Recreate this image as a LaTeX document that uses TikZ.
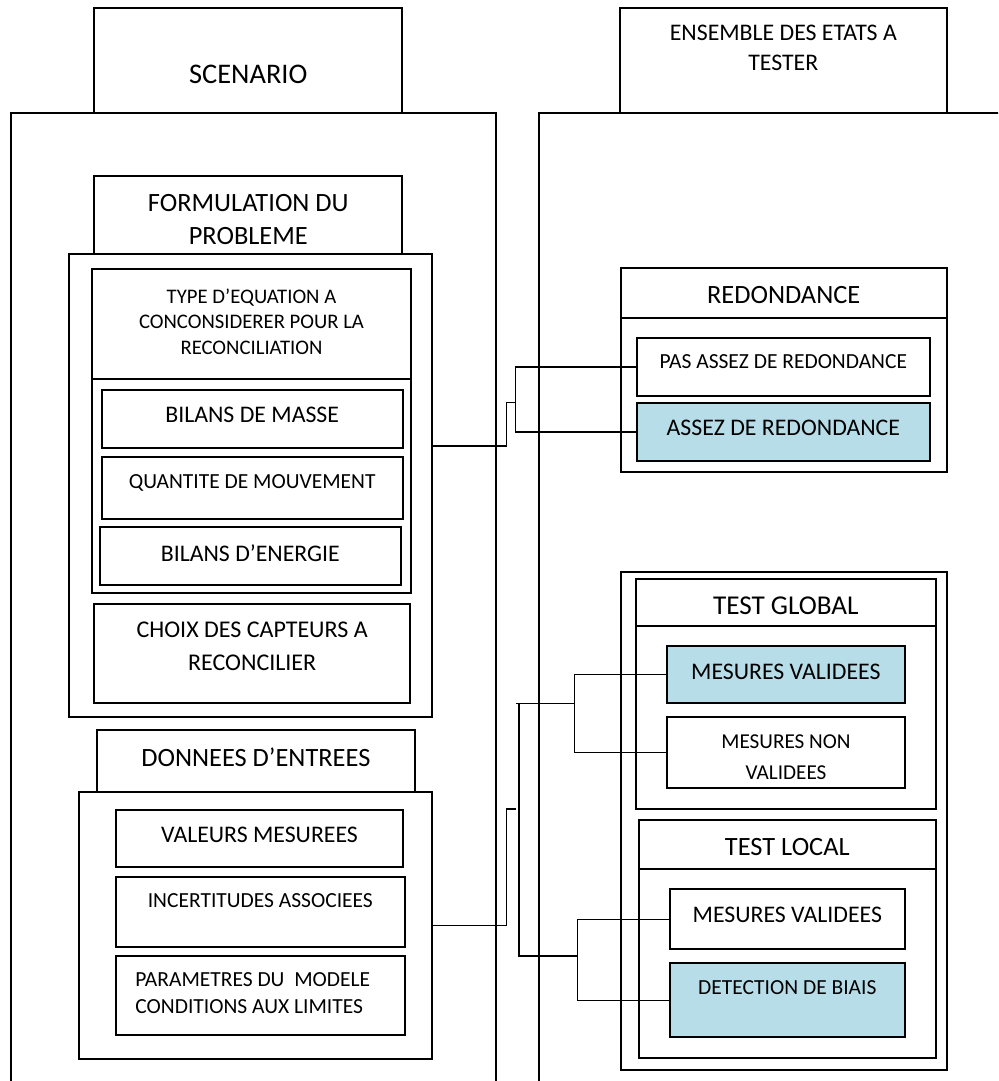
\documentclass[tikz,border=0pt]{standalone}
\usepackage{fontspec}
\setmainfont{Carlito}
\usetikzlibrary{fit,calc}
\definecolor{lightblue}{HTML}{B7DDE8}

\begin{document}
\begin{tikzpicture}[x=0.5pt,y=-0.5pt,
		box/.style={draw, line width=0.9pt, inner sep=0pt},
		bluebox/.style={box, fill=lightblue},
		txt/.style={anchor=north, align=center, inner sep=0pt},
		fs/.style={font=\fontsize{10.75}{13.5}\selectfont},
		fn/.style={font=\fontsize{11.9}{15}\selectfont},
		fh/.style={font=\fontsize{13.2}{16.2}\selectfont},
		link/.style={line width=0.75pt}]
				\useasboundingbox (0,0) rectangle (998,1081);
				\clip (0,0) rectangle (998,1081);
				% scenario
				\node[box, fit={(11,113.3) (495.7,1100)}] (scenbox) {};
				\node[box, fit={(94.3,8.3) (402.3,113.3)}] (scen) {};
				\node[txt, font=\fontsize{14.2}{17}\selectfont] (t-scen) at ($(scen.north)+(0,57)$) {SCENARIO};
				\node[box, fit={(94.3,176) (402.3,254)}] (form) {};
				\node[txt, fh] (t-form) at ($(form.north)+(0,19)$) {FORMULATION DU\\PROBLEME};
				\node[box, fit={(69.3,254) (431.7,717)}] (frameA) {};
				\node[box, fit={(92.3,269.3) (410.7,593.3)}] (eqn) {};
				\node[box, fit={(92.3,269.3) (410.7,379.3)}] (eqnhd) {};
				\node[txt, font=\fontsize{10.35}{12.65}\selectfont] (t-eqn) at ($(eqnhd.north)+(0,20.2)$) {TYPE D’EQUATION A\\CONCONSIDERER POUR LA\\RECONCILIATION};
				\node[box, fit={(101.7,390) (402.7,448.3)}] (masse) {};
				\node[txt, fn] (t-masse) at ($(masse.north)+(0,17.5)$) {BILANS DE MASSE};
				\node[box, fit={(101.7,456.7) (402.7,519)}] (qdm) {};
				\node[txt, fs] (t-qdm) at ($(qdm.north)+(0,18.2)$) {QUANTITE DE MOUVEMENT};
				\node[box, fit={(100,526.7) (400.7,585)}] (energ) {};
				\node[txt, fn] (t-energ) at ($(energ.north)+(0,18.1)$) {BILANS D’ENERGIE};
				\node[box, fit={(94.3,604) (410,703.3)}] (choix) {};
				\node[txt, font=\fontsize{12}{16.5}\selectfont] (t-choix) at ($(choix.north)+(0,18.4)$) {CHOIX DES CAPTEURS A\\RECONCILIER};
				\node[box, fit={(96.7,730) (415,791.7)}] (donn) {};
				\node[txt, fh] (t-donn) at ($(donn.north)+(0,18.4)$) {DONNEES D’ENTREES};
				\node[box, fit={(79.3,791.7) (431.7,1059)}] (frameB) {};
				\node[box, fit={(115.7,810) (403.3,867.3)}] (val) {};
				\node[txt, fn] (t-val) at ($(val.north)+(0,17.5)$) {VALEURS MESUREES};
				\node[box, fit={(115.7,877.3) (405,946.7)}] (inc) {};
				\node[txt, fs] (t-inc) at ($(inc.north)+(0,16.9)$) {INCERTITUDES ASSOCIEES};
				\node[box, fit={(115.7,955.7) (405,1035)}] (param) {};
				\node[txt, fs, anchor=north west, align=left] (t-param) at (135,972.2) {PARAMETRES DU\ \ MODELE\\CONDITIONS AUX LIMITES};
				% etats a tester
				\node[box, fit={(539.3,113.3) (1010,1100)}] (etatbox) {};
				\node[box, fit={(620,8.3) (946.7,113.3)}] (ens) {};
				\node[txt, fn] (t-ens) at ($(ens.north)+(0,17.5)$) {ENSEMBLE DES ETATS A\\TESTER};
				\node[box, fit={(620.7,268) (946.7,472.3)}] (red) {};
				\node[box, fit={(620.7,268) (946.7,317.7)}] (redhd) {};
				\node[txt, fh] (t-red) at ($(redhd.north)+(0,18.8)$) {REDONDANCE};
				\node[box, fit={(636.7,338.3) (930,396)}] (pas) {};
				\node[txt, fs] (t-pas) at ($(pas.north)+(0,16.6)$) {PAS ASSEZ DE REDONDANCE};
				\node[bluebox, fit={(636.7,403.3) (930,460.7)}] (assez) {};
				\node[txt, fn] (t-assez) at ($(assez.north)+(0,17.5)$) {ASSEZ DE REDONDANCE};
				\node[box, fit={(620.7,571.7) (946.7,1070)}] (tests) {};
				\node[box, fit={(636,579.3) (935.7,809)}] (glob) {};
				\node[box, fit={(636,579.3) (935.7,626)}] (globhd) {};
				\node[txt, font=\fontsize{13.6}{16.5}\selectfont] (t-glob) at ($(globhd.north)+(0,17.6)$) {TEST GLOBAL};
				\node[bluebox, fit={(666.7,646) (905,703.3)}] (mvg) {};
				\node[txt, fn] (t-mvg) at ($(mvg.north)+(0,18.2)$) {MESURES VALIDEES};
				\node[box, fit={(667,717.3) (905,787.7)}] (mnv) {};
				\node[txt, font=\fontsize{10.6}{15.5}\selectfont] (t-mnv) at ($(mnv.north)+(0,17.7)$) {MESURES NON\\VALIDEES};
				\node[box, fit={(639,820) (935.7,1058.3)}] (loc) {};
				\node[box, fit={(639,820) (935.7,869)}] (lochd) {};
				\node[txt, fh] (t-loc) at ($(lochd.north)+(0,18.4)$) {TEST LOCAL};
				\node[box, fit={(669.7,889.3) (905,949.3)}] (mvl) {};
				\node[txt, fn] (t-mvl) at ($(mvl.north)+(0,18.2)$) {MESURES VALIDEES};
				\node[bluebox, fit={(669.7,963.3) (905,1037.3)}] (biais) {};
				\node[txt, fs] (t-biais) at ($(biais.north)+(0,17.6)$) {DETECTION DE BIAIS};
				% liaisons
				\coordinate (ra) at (506.7,402.7);
				\coordinate (rb) at (515.7,402.7);
				\draw[link] (frameA.east |- 0,446) -| (ra) -- (rb);
				\draw[link] (pas.west) -| (rb) |- (assez.west);
				\coordinate (ta) at (506.7,809);
				\coordinate (tb) at (516,809);
				\coordinate (tc) at (515.7,703.3);
				\coordinate (td) at (519,703.3);
				\coordinate (tg) at (574.3,703.3);
				\coordinate (tl) at (577.3,956);
				\draw[link] (frameB.east) -| (ta) -- (tb);
				\draw[link] (tc) -- (tg);
				\draw[link] (td) |- (tl);
				\draw[link] (mvg.west) -| (tg) |- (mnv.west);
				\draw[link] (mvl.west) -| (tl) |- (biais.west);
\end{tikzpicture}
\end{document}
